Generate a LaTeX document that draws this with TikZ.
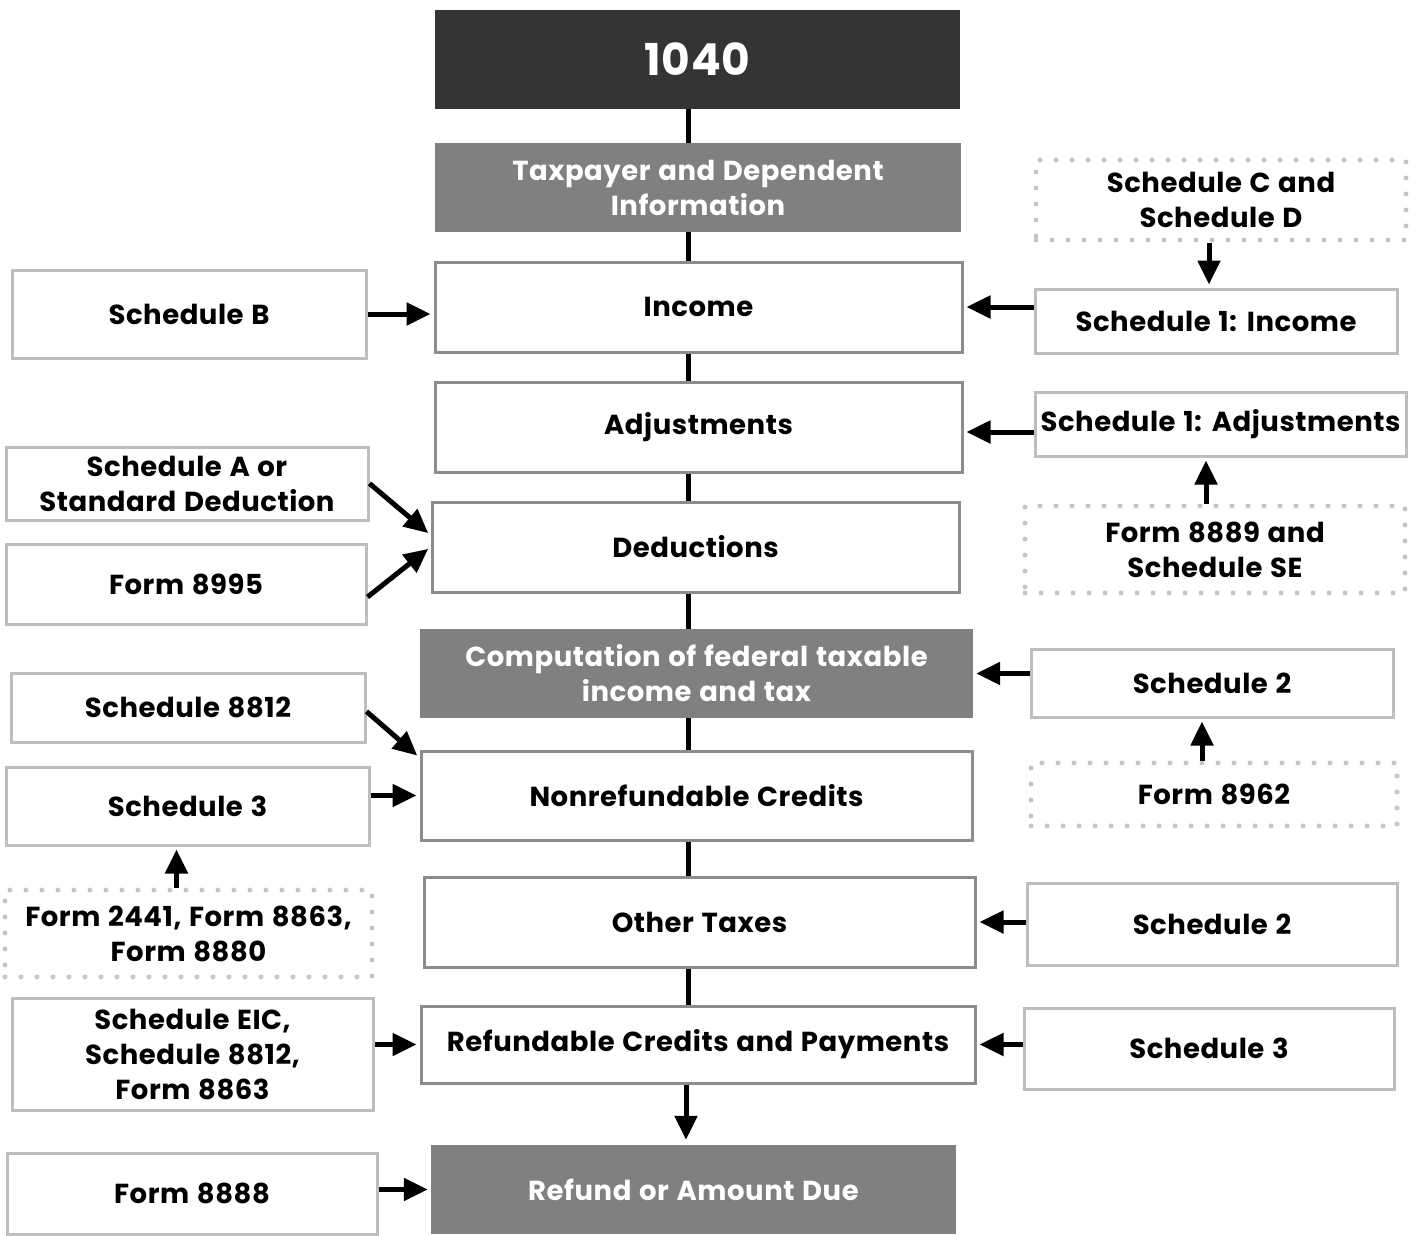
\documentclass[tikz,border=0pt]{standalone}
\usepackage{fontspec}
\setmainfont{Poppins}[LetterSpace=2, WordSpace=1.2]
\usetikzlibrary{arrows.meta}
\definecolor{headdark}{HTML}{343434}
\definecolor{headgray}{HTML}{808080}
\definecolor{mainedge}{HTML}{8C8C8C}
\definecolor{sideedge}{HTML}{BEBEBE}
\definecolor{dotgray}{HTML}{C6C6C6}
\newcommand*{\lw  }{5pt}
\newcommand*{\bw  }{3pt}
\newcommand*{\spx }{688}
\begin{document}
\begin{tikzpicture}[x=1pt, y=-1pt, font=\fontsize{27.5}{35}\selectfont\bfseries,
    box/.style    = {align=center, inner sep=0pt},
    main/.style   = {box, draw=mainedge, line width=\bw, fill=white},
    head/.style   = {box, fill=headgray, text=white},
    side/.style   = {box, draw=sideedge, line width=\bw, fill=white},
    dots/.style   = {box, draw=dotgray, line width=\lw, line cap=round, dash pattern=on 0pt off 16pt},
    spine/.style  = {line width=\lw},
    feed/.style   = {line width=\lw, -{Triangle[length=24pt, width=22pt]}, shorten >=3pt}]
    \useasboundingbox (0,0) rectangle (1413,1235);
    \coordinate (top) at (\spx,0);
    % main column
    \node [head, fill=headdark, minimum width=525, minimum height=99, font=\fontsize{44}{50}\selectfont\bfseries] (f1040) at (697.5,59.5) {1040};
    \node [head, minimum width=526, minimum height=89] (taxp)    at (698,187.5)  {Taxpayer and Dependent\\Information};
    \node [main, minimum width=527, minimum height=90] (income)  at (698.5,307)  {Income};
    \node [main, minimum width=527, minimum height=90] (adjust)  at (698.5,427)  {Adjustments};
    \node [main, minimum width=527, minimum height=90] (deduct)  at (695.5,547)  {Deductions};
    \node [head, minimum width=553, minimum height=89] (comput)  at (696.5,673.5) {Computation of federal taxable\\income and tax};
    \node [main, minimum width=551, minimum height=89] (nonref)  at (696.5,795.5) {Nonrefundable Credits};
    \node [main, minimum width=551, minimum height=90] (other)   at (699.5,922)  {Other Taxes};
    \node [main, minimum width=554, minimum height=77] (refcred) at (698,1044.5) {Refundable Credits and Payments};
    \node [head, minimum width=525, minimum height=89] (refund)  at (693.5,1189.5) {Refund or Amount Due};
    \foreach \a/\b in {f1040/taxp, taxp/income, income/adjust, adjust/deduct, deduct/comput, comput/nonref, nonref/other, other/refcred}
        \draw [spine] (\a.south -| top) -- (\b.north -| top);
    \draw [feed, shorten >=5pt] (refcred.south -| 686,0) -- (refund.north -| 686,0);
    % left column
    \node [side, minimum width=354, minimum height=88]  (schb)   at (189,314)    {Schedule B};
    \node [side, minimum width=362, minimum height=73]  (scha)   at (187,483.5)  {Schedule A or\\Standard Deduction};
    \node [side, minimum width=360, minimum height=80]  (f8995)  at (186,584)    {Form 8995};
    \node [side, minimum width=354, minimum height=69]  (s8812)  at (188,707.5)  {Schedule 8812};
    \node [side, minimum width=363, minimum height=78]  (schtl)  at (187.5,806)  {Schedule 3};
    \node [dots, minimum width=367, minimum height=87]  (f2441)  at (188.5,933.5) {Form 2441, Form 8863,\\Form 8880};
    \node [side, minimum width=361, minimum height=112] (seic)   at (192.5,1054) {Schedule EIC,\\Schedule 8812,\\Form 8863};
    \node [side, minimum width=370, minimum height=81]  (f8888)  at (192,1193.5) {Form 8888};
    \draw [feed] (schb.east) -- (schb.east -| income.west);
    \draw [feed] (scha.east) -- ([yshift=12pt]deduct.west);
    \draw [feed] ([yshift=-13pt]f8995.east) -- (deduct.west);
    \draw [feed] ([yshift=-4pt]s8812.east) -- ([yshift=38pt]nonref.west);
    \draw [feed] (nonref.west -| schtl.east) -- (nonref.west);
    \draw [feed] ([xshift=-12pt]f2441.north) -- ([xshift=-12pt]f2441.north |- schtl.south);
    \draw [feed] (refcred.west -| seic.east) -- (refcred.west);
    \draw [feed] (refund.west -| f8888.east) -- (refund.west);
    % right column
    \node [dots, minimum width=370, minimum height=80]  (schcd)  at (1221,200)   {Schedule C and\\Schedule D};
    \node [side, minimum width=362, minimum height=64]  (s1inc)  at (1216,321)   {Schedule 1: Income};
    \node [side, minimum width=371, minimum height=64]  (s1adj)  at (1220.5,424) {Schedule 1: Adjustments};
    \node [dots, minimum width=380, minimum height=87]  (f8889)  at (1215,549.5) {Form 8889 and\\Schedule SE};
    \node [side, minimum width=362, minimum height=68]  (stwoa)  at (1212,683)   {Schedule 2};
    \node [dots, minimum width=366, minimum height=63]  (f8962)  at (1214,794.5) {Form 8962};
    \node [side, minimum width=370, minimum height=82]  (stwob)  at (1212,924)   {Schedule 2};
    \node [side, minimum width=370, minimum height=81]  (schtr)  at (1209,1048.5) {Schedule 3};
    \draw [feed] ([xshift=-12pt]schcd.south) -- ([xshift=-12pt]schcd.south |- s1inc.north);
    \draw [feed] (income.east -| s1inc.west) -- (income.east);
    \draw [feed] ([yshift=-5pt]adjust.east -| s1adj.west) -- ([yshift=-5pt]adjust.east);
    \draw [feed] ([xshift=-9pt]f8889.north) -- ([xshift=-9pt]f8889.north |- s1adj.south);
    \draw [feed] (comput.east -| stwoa.west) -- (comput.east);
    \draw [feed] ([xshift=-12pt]f8962.north) -- ([xshift=-12pt]f8962.north |- stwoa.south);
    \draw [feed] (other.east -| stwob.west) -- (other.east);
    \draw [feed] (refcred.east -| schtr.west) -- (refcred.east);
\end{tikzpicture}
\end{document}
